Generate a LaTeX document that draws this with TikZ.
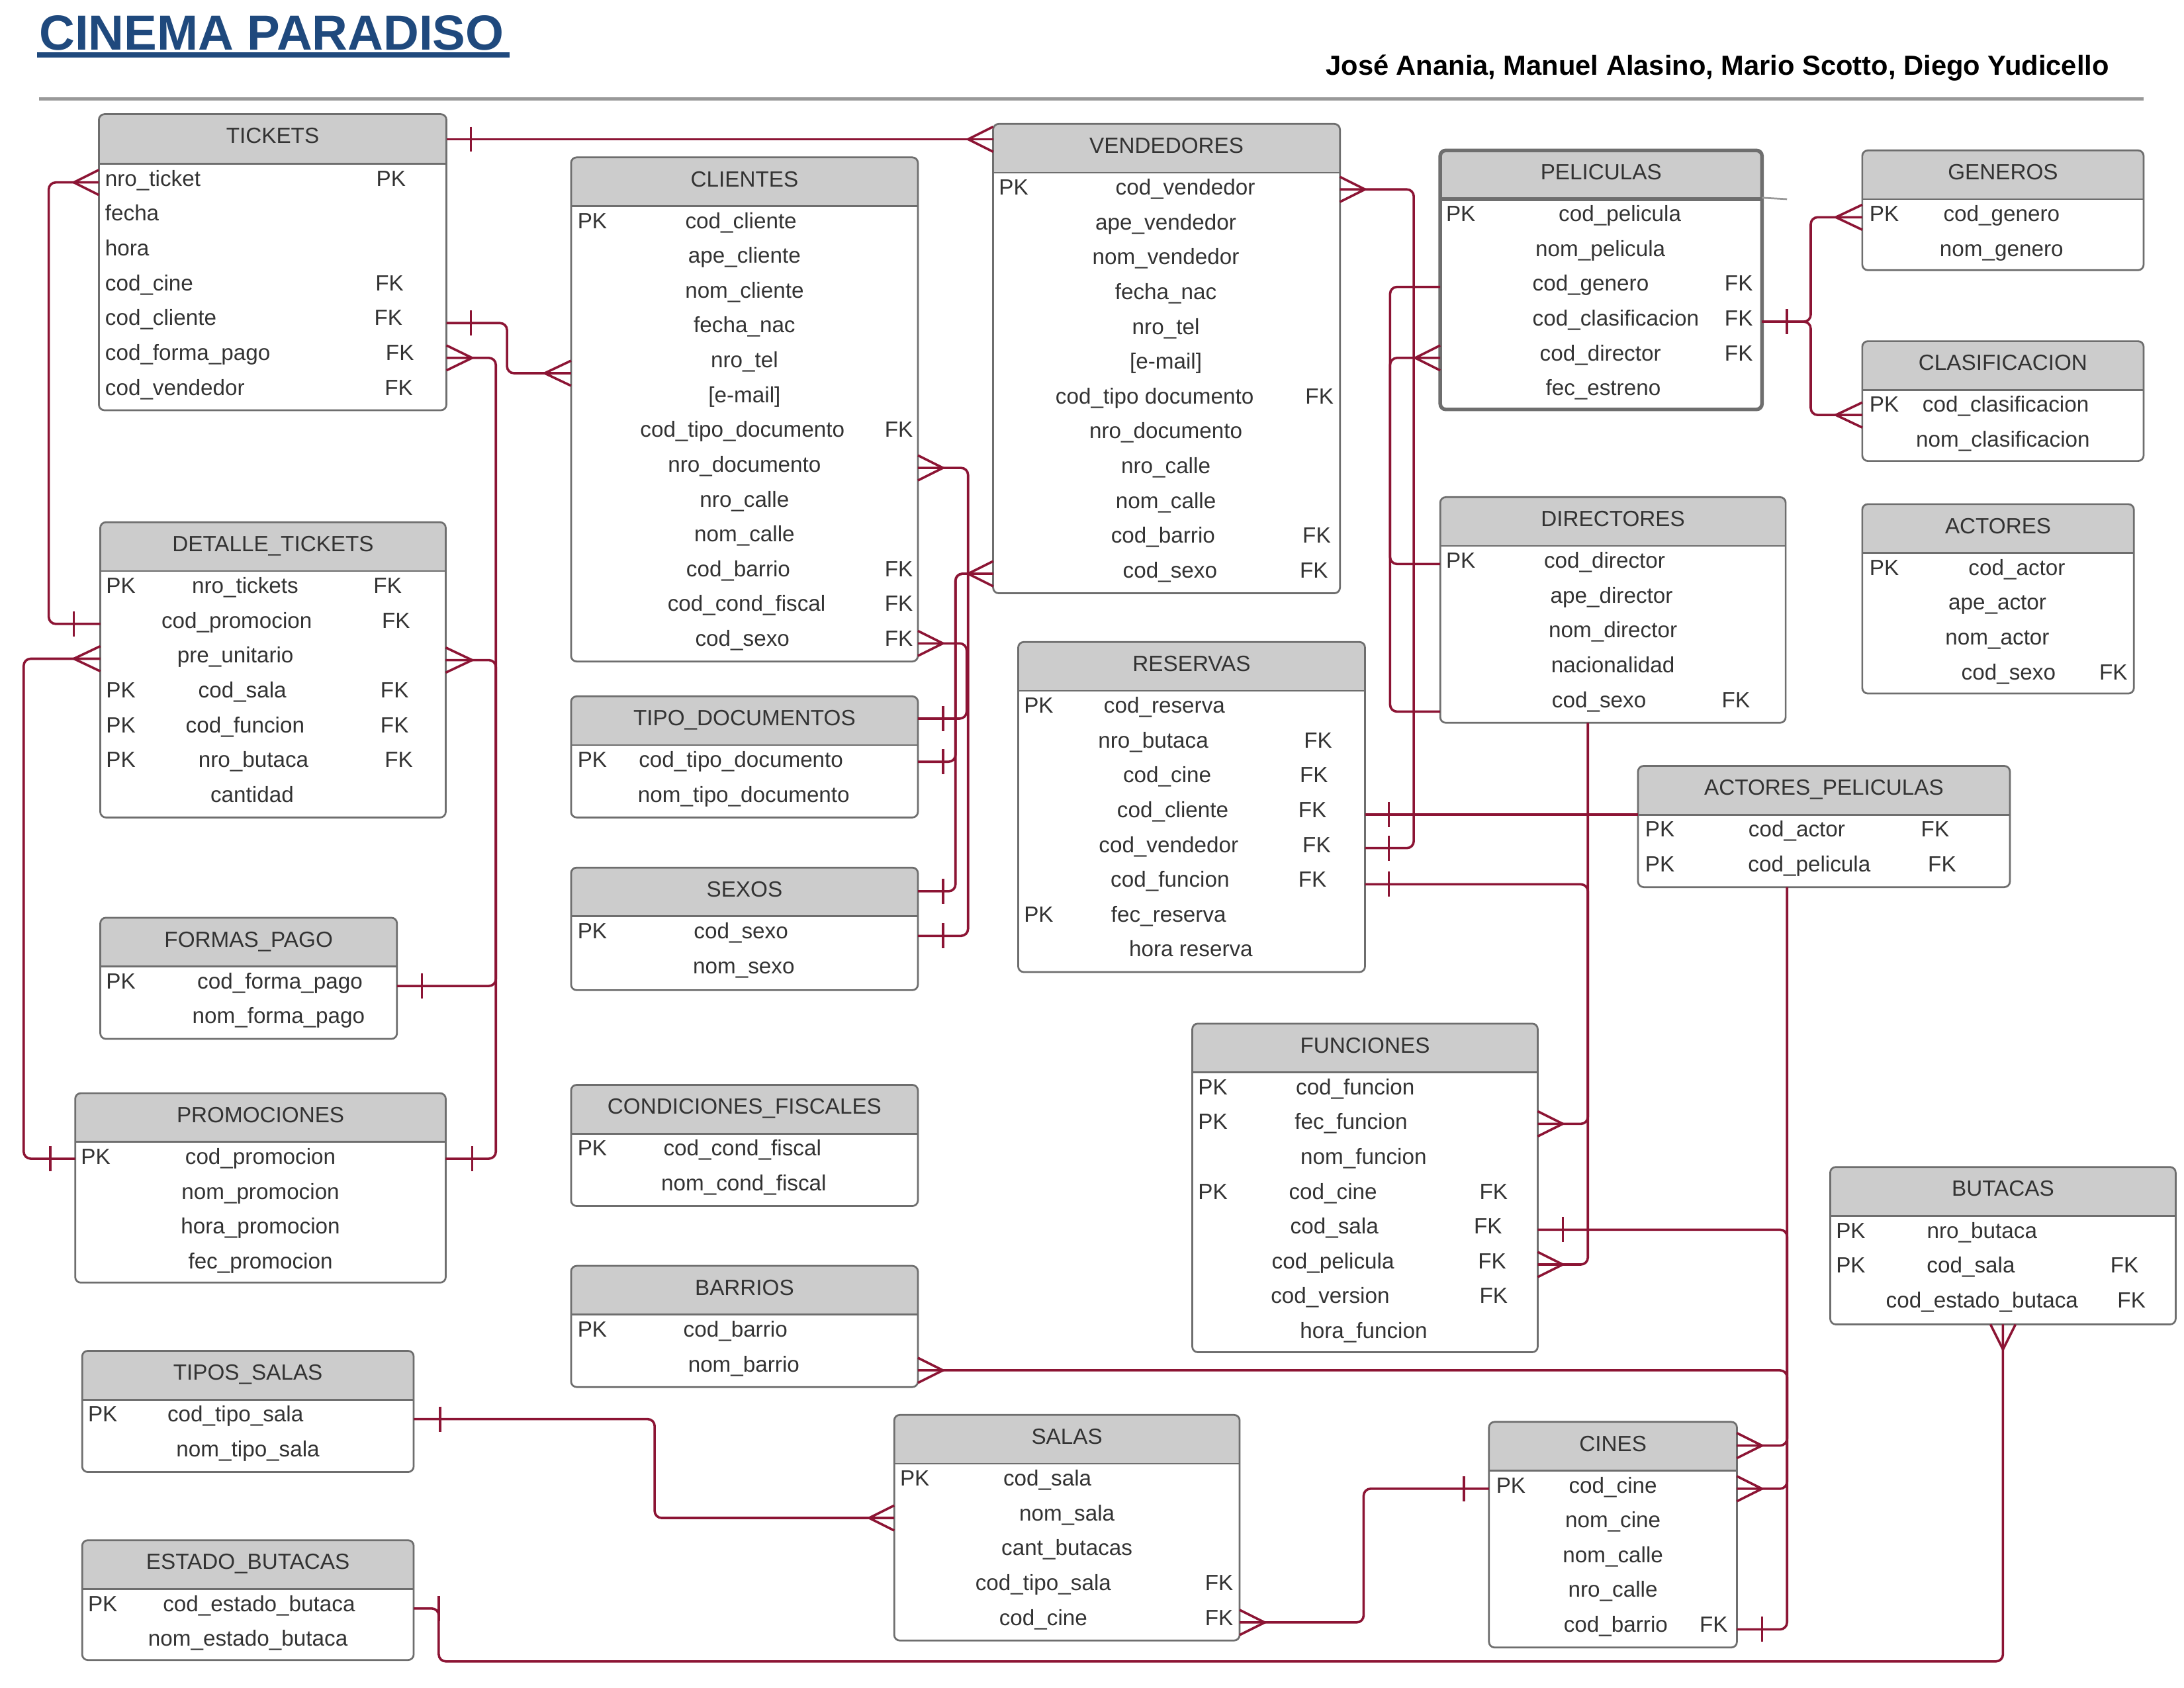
\documentclass[tikz,border=0pt]{standalone}
\usepackage{fontspec}
\setmainfont{Liberation Sans}
\definecolor{conncol}{RGB}{140,20,52}
\definecolor{bordercol}{RGB}{110,110,110}
\definecolor{hdrcol}{RGB}{204,204,204}
\definecolor{txtcol}{RGB}{51,51,51}
\definecolor{rulecol}{RGB}{153,153,153}
\definecolor{titlecol}{RGB}{31,73,125}
\tikzset{
  conn/.style={draw=conncol, line width=1.7pt, rounded corners=5pt},
  tick/.style={draw=conncol, line width=1.7pt},
  boxnode/.style={draw=none, inner sep=0pt, outer sep=0pt, rectangle},
  border/.style={draw=bordercol},
  rowtext/.style={text=txtcol, font=\fontsize{15.8}{18}\selectfont, inner sep=0pt},
  hdrtext/.style={text=txtcol, font=\fontsize{15.8}{18}\selectfont, inner sep=0pt, anchor=base},
}
\newcommand{\tbl}[8]{%
  \def\curname{#1}\def\curhb{#5}%
  \pgfmathsetmacro{\tblw}{#4-#2}\pgfmathsetmacro{\tblh}{#6-#3}%
  \node[boxnode, minimum width=\tblw pt, minimum height=\tblh pt, anchor=north west] (#1) at (#2,#3) {};
  \begin{scope}
    \clip[rounded corners=4pt] (#2,#3) rectangle (#4,#6);
    \fill[white] (#2,#3) rectangle (#4,#6);
    \fill[hdrcol] (#2,#3) rectangle (#4,#5);
  \end{scope}
  \draw[border, line width=#8] (#2,#5) -- (#4,#5);
  \draw[border, line width=#8, rounded corners=4pt] (#2,#3) rectangle (#4,#6);
  \node[hdrtext] (#1-title) at ({(#2+#4)/2},{#3+21}) {#7};
}
\newcommand{\fieldc}[3]{\node[rowtext, anchor=base] (\curname-r#1) at (#2,{\curhb+16+25*#1}) {#3};}
\newcommand{\fieldl}[3]{\node[rowtext, anchor=base west] (\curname-r#1) at (#2,{\curhb+16+25*#1}) {#3};}
\newcommand{\pkey}[2]{\node[rowtext, anchor=base west] (\curname-pk#1) at (#2,{\curhb+16+25*#1}) {PK};}
\newcommand{\fkey}[2]{\node[rowtext, anchor=base west] (\curname-fk#1) at (#2,{\curhb+16+25*#1}) {FK};}
\newcommand{\crowh}[3]{\draw[tick] (#1,{#3-9}) -- (#2,#3) -- (#1,{#3+9});}
\newcommand{\crowv}[3]{\draw[tick] ({#3-9},#1) -- (#3,#2) -- ({#3+9},#1);}
\newcommand{\barv}[2]{\draw[tick] (#1,{#2-9}) -- (#1,{#2+9});}
\begin{document}
\begin{tikzpicture}[x=1pt,y=-1pt]
\useasboundingbox (0,0) rectangle (1568,1212);
\fill[white] (0,0) rectangle (1568,1212);
% title block
\node[anchor=base west, inner sep=0pt, text=titlecol, font=\fontsize{35.4}{40}\selectfont\bfseries] (title) at (28,35.8) {CINEMA PARADISO};
\draw[titlecol, line width=3.6pt] (26.7,39.4) -- (366,39.4);
\node[anchor=base east, inner sep=0pt, text=black, font=\fontsize{19.8}{23}\selectfont\bfseries] (authors) at (1514.3,53.8) {José Anania, Manuel Alasino, Mario Scotto, Diego Yudicello};
\draw[rulecol, line width=2.5pt] (28,71) -- (1539,71);

% ---------- tables ----------
\tbl{tk}{71}{82}{320.5}{117.7}{294.6}{TICKETS}{1.3pt}
\fieldl{0}{75.3}{nro\_ticket}\pkey{0}{270}
\fieldl{1}{75.3}{fecha}
\fieldl{2}{75.3}{hora}
\fieldl{3}{75.3}{cod\_cine}\fkey{3}{269.4}
\fieldl{4}{75.3}{cod\_cliente}\fkey{4}{268.5}
\fieldl{5}{75.3}{cod\_forma\_pago}\fkey{5}{276.8}
\fieldl{6}{75.3}{cod\_vendedor}\fkey{6}{276}

\tbl{cl}{410}{113}{659}{148}{475}{CLIENTES}{1.3pt}
\pkey{0}{414.5}\fieldc{0}{532}{cod\_cliente}
\fieldc{1}{534.5}{ape\_cliente}
\fieldc{2}{534.5}{nom\_cliente}
\fieldc{3}{534.5}{fecha\_nac}
\fieldc{4}{534.5}{nro\_tel}
\fieldc{5}{534.5}{[e-mail]}
\fieldc{6}{533}{cod\_tipo\_documento}\fkey{6}{635}
\fieldc{7}{534.5}{nro\_documento}
\fieldc{8}{534.5}{nro\_calle}
\fieldc{9}{534.5}{nom\_calle}
\fieldc{10}{530}{cod\_barrio}\fkey{10}{635}
\fieldc{11}{536}{cod\_cond\_fiscal}\fkey{11}{635}
\fieldc{12}{533}{cod\_sexo}\fkey{12}{635}

\tbl{ve}{713}{89}{962}{124}{426}{VENDEDORES}{1.3pt}
\pkey{0}{717}\fieldc{0}{851}{cod\_vendedor}
\fieldc{1}{837}{ape\_vendedor}
\fieldc{2}{837}{nom\_vendedor}
\fieldc{3}{837}{fecha\_nac}
\fieldc{4}{837}{nro\_tel}
\fieldc{5}{837}{[e-mail]}
\fieldc{6}{829}{cod\_tipo documento}\fkey{6}{937}
\fieldc{7}{837}{nro\_documento}
\fieldc{8}{837}{nro\_calle}
\fieldc{9}{837}{nom\_calle}
\fieldc{10}{835}{cod\_barrio}\fkey{10}{935}
\fieldc{11}{840}{cod\_sexo}\fkey{11}{933}

\tbl{pe}{1034}{108}{1265}{143}{294}{PELICULAS}{2.6pt}
\pkey{0}{1038}\fieldc{0}{1163}{cod\_pelicula}
\fieldc{1}{1149}{nom\_pelicula}
\fieldc{2}{1142}{cod\_genero}\fkey{2}{1238}
\fieldc{3}{1160}{cod\_clasificacion}\fkey{3}{1238}
\fieldc{4}{1149}{cod\_director}\fkey{4}{1238}
\fieldc{5}{1151}{fec\_estreno}
\draw[rulecol, line width=1.3pt] (pe.east |- 0,142) -- (1283,143);

\tbl{ge}{1337}{108}{1539}{143}{194}{GENEROS}{1.3pt}
\pkey{0}{1342}\fieldc{0}{1437}{cod\_genero}
\fieldc{1}{1437}{nom\_genero}

\tbl{cs}{1337}{245}{1539}{280}{331}{CLASIFICACION}{1.3pt}
\pkey{0}{1342}\fieldc{0}{1440}{cod\_clasificacion}
\fieldc{1}{1438}{nom\_clasificacion}

\tbl{di}{1034}{357}{1282}{392}{519}{DIRECTORES}{1.3pt}
\pkey{0}{1038}\fieldc{0}{1152}{cod\_director}
\fieldc{1}{1157}{ape\_director}
\fieldc{2}{1158}{nom\_director}
\fieldc{3}{1158}{nacionalidad}
\fieldc{4}{1148}{cod\_sexo}\fkey{4}{1236}

\tbl{ac}{1337}{362}{1532}{397}{498}{ACTORES}{1.3pt}
\pkey{0}{1342}\fieldc{0}{1448}{cod\_actor}
\fieldc{1}{1434}{ape\_actor}
\fieldc{2}{1434}{nom\_actor}
\fieldc{3}{1442}{cod\_sexo}\fkey{3}{1507}

\tbl{dt}{72}{375}{320}{410}{587}{DETALLE\_TICKETS}{1.3pt}
\pkey{0}{76}\fieldc{0}{176}{nro\_tickets}\fkey{0}{268}
\fieldc{1}{170}{cod\_promocion}\fkey{1}{274}
\fieldc{2}{169}{pre\_unitario}
\pkey{3}{76}\fieldc{3}{174}{cod\_sala}\fkey{3}{273}
\pkey{4}{76}\fieldc{4}{176}{cod\_funcion}\fkey{4}{273}
\pkey{5}{76}\fieldc{5}{182}{nro\_butaca}\fkey{5}{276}
\fieldc{6}{181}{cantidad}

\tbl{td}{410}{500}{659}{535}{587}{TIPO\_DOCUMENTOS}{1.3pt}
\pkey{0}{414.5}\fieldc{0}{532}{cod\_tipo\_documento}
\fieldc{1}{534}{nom\_tipo\_documento}

\tbl{sx}{410}{623}{659}{658}{711}{SEXOS}{1.3pt}
\pkey{0}{414.5}\fieldc{0}{532}{cod\_sexo}
\fieldc{1}{534}{nom\_sexo}

\tbl{re}{731}{461}{980}{496}{698}{RESERVAS}{1.3pt}
\pkey{0}{735}\fieldc{0}{836}{cod\_reserva}
\fieldc{1}{828}{nro\_butaca}\fkey{1}{936}
\fieldc{2}{838}{cod\_cine}\fkey{2}{933}
\fieldc{3}{842}{cod\_cliente}\fkey{3}{932}
\fieldc{4}{839}{cod\_vendedor}\fkey{4}{935}
\fieldc{5}{840}{cod\_funcion}\fkey{5}{932}
\pkey{6}{735}\fieldc{6}{839}{fec\_reserva}
\fieldc{7}{855}{hora reserva}

\tbl{ap}{1176}{550}{1443}{585}{637}{ACTORES\_PELICULAS}{1.3pt}
\pkey{0}{1181}\fieldc{0}{1290}{cod\_actor}\fkey{0}{1379}
\pkey{1}{1181}\fieldc{1}{1299}{cod\_pelicula}\fkey{1}{1384}

\tbl{fp}{72}{659}{285}{694}{746}{FORMAS\_PAGO}{1.3pt}
\pkey{0}{76}\fieldc{0}{201}{cod\_forma\_pago}
\fieldc{1}{200}{nom\_forma\_pago}

\tbl{pr}{54}{785}{320}{820}{921}{PROMOCIONES}{1.3pt}
\pkey{0}{58}\fieldc{0}{187}{cod\_promocion}
\fieldc{1}{187}{nom\_promocion}
\fieldc{2}{187}{hora\_promocion}
\fieldc{3}{187}{fec\_promocion}

\tbl{cn}{410}{779}{659}{814}{866}{CONDICIONES\_FISCALES}{1.3pt}
\pkey{0}{414.5}\fieldc{0}{533}{cod\_cond\_fiscal}
\fieldc{1}{534}{nom\_cond\_fiscal}

\tbl{fu}{856}{735}{1104}{770}{971}{FUNCIONES}{1.3pt}
\pkey{0}{860}\fieldc{0}{973}{cod\_funcion}
\pkey{1}{860}\fieldc{1}{970}{fec\_funcion}
\fieldc{2}{979}{nom\_funcion}
\pkey{3}{860}\fieldc{3}{957}{cod\_cine}\fkey{3}{1062}
\fieldc{4}{958}{cod\_sala}\fkey{4}{1058}
\fieldc{5}{957}{cod\_pelicula}\fkey{5}{1061}
\fieldc{6}{955}{cod\_version}\fkey{6}{1062}
\fieldc{7}{979}{hora\_funcion}

\tbl{bu}{1314}{838}{1562}{873}{951}{BUTACAS}{1.3pt}
\pkey{0}{1318}\fieldc{0}{1423}{nro\_butaca}
\pkey{1}{1318}\fieldc{1}{1415}{cod\_sala}\fkey{1}{1515}
\fieldc{2}{1423}{cod\_estado\_butaca}\fkey{2}{1520}

\tbl{ba}{410}{909}{659}{944}{996}{BARRIOS}{1.3pt}
\pkey{0}{414.5}\fieldc{0}{528}{cod\_barrio}
\fieldc{1}{534}{nom\_barrio}

\tbl{ts}{59}{970}{297}{1005}{1057}{TIPOS\_SALAS}{1.3pt}
\pkey{0}{63}\fieldc{0}{169}{cod\_tipo\_sala}
\fieldc{1}{178}{nom\_tipo\_sala}

\tbl{sa}{642}{1016}{890}{1051}{1178}{SALAS}{1.3pt}
\pkey{0}{646}\fieldc{0}{752}{cod\_sala}
\fieldc{1}{766}{nom\_sala}
\fieldc{2}{766}{cant\_butacas}
\fieldc{3}{749}{cod\_tipo\_sala}\fkey{3}{865}
\fieldc{4}{749}{cod\_cine}\fkey{4}{865}

\tbl{ci}{1069}{1021}{1247}{1056}{1183}{CINES}{1.3pt}
\pkey{0}{1074}\fieldc{0}{1158}{cod\_cine}
\fieldc{1}{1158}{nom\_cine}
\fieldc{2}{1158}{nom\_calle}
\fieldc{3}{1158}{nro\_calle}
\fieldc{4}{1160}{cod\_barrio}\fkey{4}{1220}

\tbl{eb}{59}{1106}{297}{1141}{1192}{ESTADO\_BUTACAS}{1.3pt}
\pkey{0}{63}\fieldc{0}{186}{cod\_estado\_butaca}
\fieldc{1}{178}{nom\_estado\_butaca}

% ---------- connectors ----------
% TICKETS - VENDEDORES
\draw[conn] (tk.east |- 0,100) -- (ve.west |- 0,100);
\barv{338}{100}\crowh{713}{695}{100}
% TICKETS - DETALLE_TICKETS
\draw[conn] (tk.west |- 0,131) -- (35,131) -- (35,448) -- (dt.west |- 0,448);
\crowh{71}{53}{131}\barv{53}{448}
% TICKETS - CLIENTES
\draw[conn] (tk.east |- 0,232) -- (364,232) -- (364,268) -- (cl.west |- 0,268);
\barv{338}{232}\crowh{410}{391}{268}
% TICKETS - FORMAS_PAGO
\draw[conn] (tk.east |- 0,257) -- (356,257) -- (356,708) -- (fp.east |- 0,708);
\crowh{320.5}{339}{257}\barv{303}{708}
% DETALLE_TICKETS - PROMOCIONES (right)
\draw[conn] (dt.east |- 0,474) -- (356,474) -- (356,832) -- (pr.east |- 0,832);
\crowh{320}{339}{474}\barv{339}{832}
% DETALLE_TICKETS - PROMOCIONES (left)
\draw[conn] (dt.west |- 0,473) -- (17,473) -- (17,832) -- (pr.west |- 0,832);
\crowh{72}{53}{473}\barv{36}{832}
% CLIENTES - SEXOS
\draw[conn] (cl.east |- 0,336) -- (695,336) -- (695,672) -- (sx.east |- 0,672);
\crowh{659}{677}{336}\barv{677}{672}
% CLIENTES - TIPO_DOCUMENTOS
\draw[conn] (cl.east |- 0,462) -- (694,462) -- (694,516) -- (td.east |- 0,516);
\crowh{659}{677}{462}\barv{677}{516}
% VENDEDORES - TIPO_DOCUMENTOS
\draw[conn] (ve.west |- 0,412) -- (686,412) -- (686,547) -- (td.east |- 0,547);
\crowh{713}{695}{412}\barv{677}{547}
% VENDEDORES - SEXOS
\draw[conn] (ve.west |- 0,412) -- (686,412) -- (686,640) -- (sx.east |- 0,640);
\barv{677}{640}
% VENDEDORES - RESERVAS
\draw[conn] (ve.east |- 0,136) -- (1015,136) -- (1015,609) -- (re.east |- 0,609);
\crowh{962}{980}{136}\barv{997}{609}
% PELICULAS - DIRECTORES
\draw[conn] (pe.west |- 0,206) -- (998,206) -- (998,511) -- (di.west |- 0,511);
\draw[conn] (pe.west |- 0,257) -- (998,257) -- (998,405) -- (di.west |- 0,405);
\crowh{1034}{1016}{257}
% PELICULAS - GENEROS / CLASIFICACION
\draw[conn] (pe.east |- 0,231) -- (1300,231) -- (1300,156) -- (ge.west |- 0,156);
\draw[conn] (pe.east |- 0,231) -- (1300,231) -- (1300,298) -- (cs.west |- 0,298);
\barv{1283}{231}\crowh{1337}{1318}{156}\crowh{1337}{1318}{298}
% RESERVAS - ACTORES_PELICULAS
\draw[conn] (re.east |- 0,585) -- (ap.west |- 0,585);
\barv{997}{585}
% RESERVAS - FUNCIONES
\draw[conn] (re.east |- 0,635) -- (1140,635) -- (1140,807) -- (fu.east |- 0,807);
\barv{997}{635}\crowh{1104}{1122}{807}
% DIRECTORES - FUNCIONES
\draw[conn] (di.south -| 1140,0) -- (1140,908) -- (fu.east |- 0,908);
\crowh{1104}{1122}{908}
% ACTORES_PELICULAS - CINES
\draw[conn] (ap.south -| 1283,0) -- (1283,1038) -- (ci.east |- 0,1038);
\crowh{1247}{1265}{1038}
% FUNCIONES - CINES
\draw[conn] (fu.east |- 0,883) -- (1283,883) -- (1283,1069) -- (ci.east |- 0,1069);
\barv{1122}{883}\crowh{1247}{1265}{1069}
% BARRIOS - CINES
\draw[conn] (ba.east |- 0,984) -- (1283,984) -- (1283,1170) -- (ci.east |- 0,1170);
\crowh{659}{677}{984}\barv{1265}{1170}
% BUTACAS - ESTADO_BUTACAS
\draw[conn] (bu.south -| 1438,0) -- (1438,1193) -- (315,1193) -- (315,1155) -- (eb.east |- 0,1155);
\crowv{951}{969}{1438}\barv{315}{1155}
% TIPOS_SALAS - SALAS
\draw[conn] (ts.east |- 0,1019) -- (470,1019) -- (470,1090) -- (sa.west |- 0,1090);
\barv{316}{1019}\crowh{642}{624}{1090}
% SALAS - CINES
\draw[conn] (sa.east |- 0,1165) -- (979,1165) -- (979,1069) -- (ci.west |- 0,1069);
\crowh{890}{908}{1165}\barv{1051}{1069}
\end{tikzpicture}
\end{document}
